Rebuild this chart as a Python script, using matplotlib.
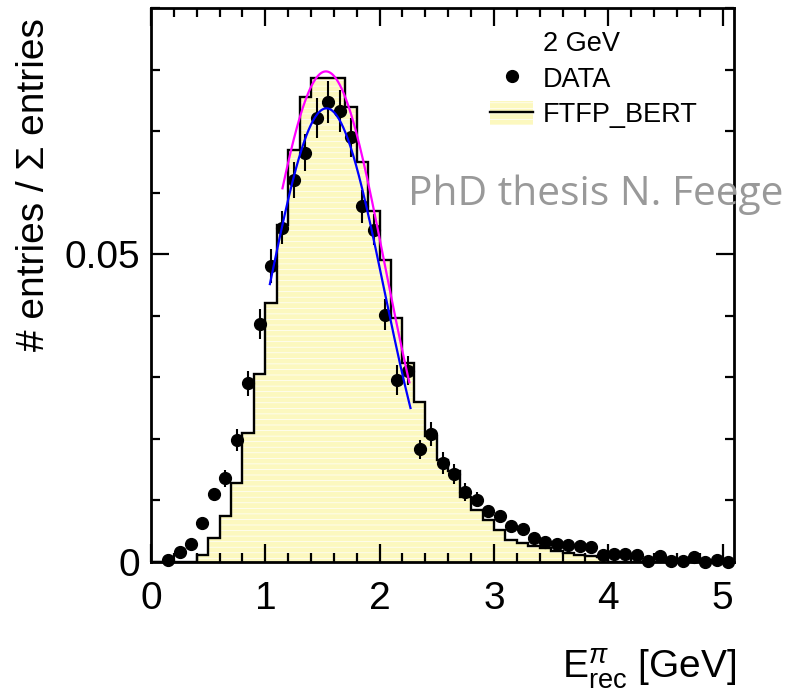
import numpy as np
import matplotlib
matplotlib.use("Agg")
import matplotlib.pyplot as plt
from matplotlib import ticker
from matplotlib.lines import Line2D
from matplotlib.patches import Patch
from matplotlib.legend_handler import HandlerTuple

plt.rcParams['font.family'] = ['Liberation Sans', 'DejaVu Sans']
plt.rcParams['mathtext.fontset'] = 'custom'
plt.rcParams['mathtext.rm'] = 'Liberation Sans'
plt.rcParams['mathtext.it'] = 'Liberation Sans:italic'
plt.rcParams['hatch.linewidth'] = 0.5

# binning of both histograms (GeV)
bin_lo = 0.0
bin_w = 0.1

# FTFP_BERT simulation, bins starting at 0.0
mc_vals = [0, 0, 0, 0, 0.0012, 0.0039, 0.0075, 0.0128, 0.0209, 0.0305,
           0.0420, 0.0547, 0.0670, 0.0755, 0.0786, 0.0787, 0.0786, 0.0739, 0.0650, 0.0571,
           0.0490, 0.0396, 0.0323, 0.0260, 0.0204, 0.0166, 0.0148, 0.0106, 0.0085, 0.0068,
           0.0052, 0.0036, 0.0031, 0.0026, 0.0022, 0.0018, 0.0014, 0.0012, 0.0010, 0.0008,
           0, 0, 0, 0, 0, 0, 0, 0, 0, 0, 0]

# DATA, bins starting at 0.1
data_first_bin = 1
data_vals = [0.0003, 0.0016, 0.0030, 0.0064, 0.0110, 0.0136, 0.0198, 0.0290, 0.0387, 0.0481,
             0.0543, 0.0621, 0.0665, 0.0721, 0.0747, 0.0732, 0.0690, 0.0578, 0.0540, 0.0402,
             0.0296, 0.0311, 0.0183, 0.0208, 0.0161, 0.0143, 0.0114, 0.0101, 0.0083, 0.0074,
             0.0059, 0.0054, 0.0039, 0.0033, 0.0029, 0.0028, 0.0026, 0.0024, 0.0011, 0.0013,
             0.0013, 0.0011, 0.0002, 0.0009, 0.0002, 0.0002, 0.0008, 0.0000, 0.0003, 0.0000]
data_err = [0, 0, 0, 0, 0.0005, 0.0014, 0.0018, 0.0021, 0.0024, 0.0027,
            0.0027, 0.0029, 0.0030, 0.0033, 0.0034, 0.0034, 0.0032, 0.0027, 0.0025, 0.0025,
            0.0024, 0.0023, 0.0016, 0.0020, 0.0018, 0.0016, 0.0015, 0.0012, 0.0009, 0.0008,
            0.0007, 0.0006, 0.0005, 0.0005, 0.0004, 0.0004, 0.0004, 0.0004, 0.0003, 0.0003,
            0.0003, 0.0003, 0.0002, 0.0002, 0.0002, 0.0002, 0.0002, 0.0002, 0.0002, 0.0002]

# gaussian fits: amplitude, mean, sigma, fit range
fit_data = [0.0737, 1.535, 0.500, 1.04, 2.27]
fit_mc = [0.0797, 1.530, 0.515, 1.15, 2.26]

fill_col = '#fcf8bf'


def gaus_curve(p, n=200):
    amp, mu, sig, lo, hi = p
    x = np.linspace(lo, hi, n)
    return x, amp * np.exp(-0.5 * ((x - mu) / sig) ** 2)


fig = plt.figure(figsize=(7.86, 6.94), dpi=100)
ax = fig.add_axes([151 / 786, 132 / 694, 583 / 786, 554 / 694])

edges = bin_lo + bin_w * np.arange(len(mc_vals) + 1)
ax.stairs(mc_vals, edges, fill=True, facecolor=fill_col, edgecolor='white',
          hatch='---', linewidth=0, zorder=1)
ax.stairs(mc_vals, edges, color='black', linewidth=1.7, zorder=2)

xc = bin_lo + bin_w * (np.arange(len(data_vals)) + data_first_bin + 0.5)
ax.errorbar(xc, data_vals, yerr=data_err, fmt='o', color='black', markersize=8.5,
            elinewidth=1.5, capsize=0, clip_on=False, zorder=3)

xb, yb = gaus_curve(fit_data)
ax.plot(xb, yb, color='#0000ff', linewidth=1.6, zorder=4)
xm, ym = gaus_curve(fit_mc)
ax.plot(xm, ym, color='#ff00ff', linewidth=1.6, zorder=4)

ax.set_xlim(0, 5.1)
ax.set_ylim(0, 0.09)
ax.xaxis.set_major_locator(ticker.MultipleLocator(1))
ax.xaxis.set_minor_locator(ticker.MultipleLocator(0.2))
ax.yaxis.set_major_locator(ticker.MultipleLocator(0.05))
ax.yaxis.set_minor_locator(ticker.MultipleLocator(0.01))
ax.xaxis.set_major_formatter(ticker.FormatStrFormatter('%g'))
ax.yaxis.set_major_formatter(ticker.FormatStrFormatter('%g'))
ax.tick_params(which='both', direction='in', top=True, right=True, width=1.6,
               labelsize=28)
ax.tick_params(which='major', length=13)
ax.tick_params(which='minor', length=6.5)
ax.tick_params(axis='x', pad=14)
ax.tick_params(axis='y', pad=8)
for s in ax.spines.values():
    s.set_linewidth(2.0)

fig.text(737 / 786, 16 / 694, r'$\mathrm{E}^{\pi}_{\mathrm{rec}}$ [GeV]', fontsize=28,
         ha='right', va='baseline')
fig.text(34 / 786, 1 - 18 / 694, '# entries / \u03a3 entries', fontsize=28,
         rotation=90, ha='center', va='top')

h_head = Line2D([], [], linestyle='none')
h_data = Line2D([], [], linestyle='none', marker='o', color='black', markersize=8.5)
h_mc = (Patch(facecolor=fill_col, edgecolor='white', hatch='---', linewidth=0),
        Line2D([], [], color='black', linewidth=1.7))
ax.legend([h_head, h_data, h_mc], ['2 GeV', 'DATA', 'FTFP_BERT'],
          handler_map={tuple: HandlerTuple(ndivide=1)},
          loc='upper left', bbox_to_anchor=(490 / 786, 1 - 30 / 694),
          bbox_transform=fig.transFigure, frameon=False, fontsize=19.5,
          handlelength=1.6, handleheight=1.0, handletextpad=0.35,
          labelspacing=0.3, borderpad=0, borderaxespad=0)

fig.text(408 / 786, 1 - 205 / 694, 'PhD thesis N. Feege', fontsize=29.3,
         family='Open Sans', color='#999999', ha='left', va='baseline')

fig.savefig('out.png', dpi=100)
